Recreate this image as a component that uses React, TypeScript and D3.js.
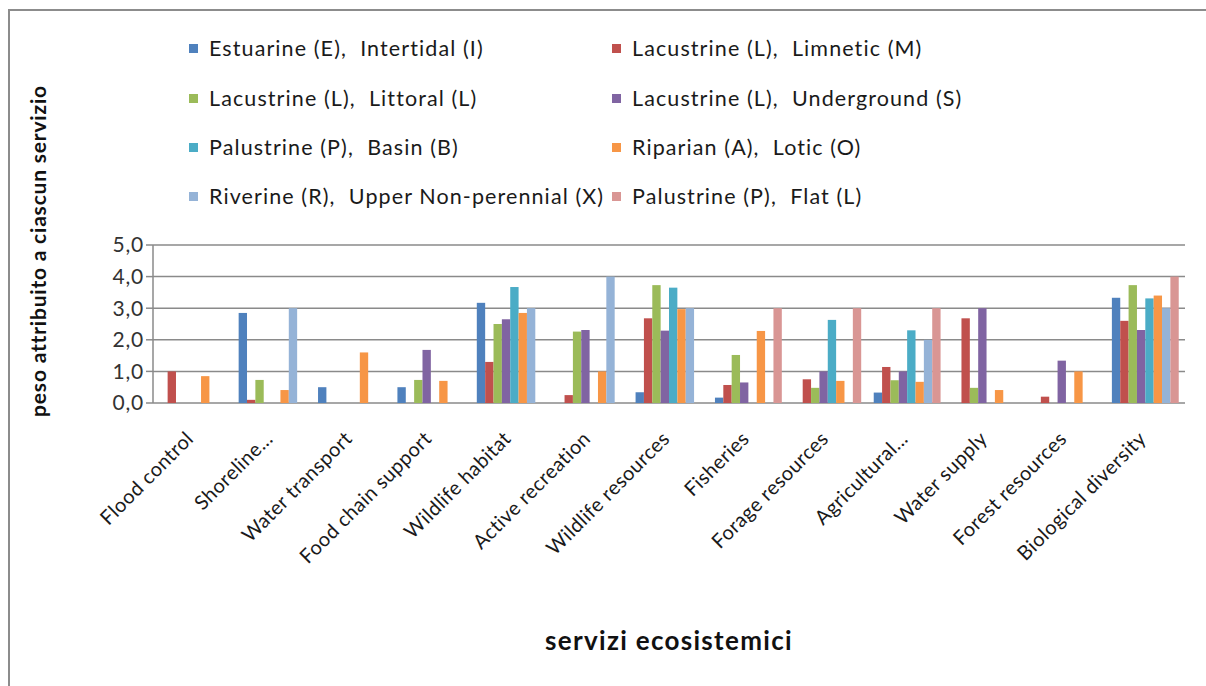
import React from "react";
import * as d3 from "d3";

const categories = [
  "Flood control",
  "Shoreline...",
  "Water transport",
  "Food chain support",
  "Wildlife habitat",
  "Active recreation",
  "Wildlife resources",
  "Fisheries",
  "Forage resources",
  "Agricultural...",
  "Water supply",
  "Forest resources",
  "Biological diversity",
];

const seriesNames = [
  "Estuarine (E),  Intertidal (I)",
  "Lacustrine (L),  Limnetic (M)",
  "Lacustrine (L),  Littoral (L)",
  "Lacustrine (L),  Underground (S)",
  "Palustrine (P),  Basin (B)",
  "Riparian (A),  Lotic (O)",
  "Riverine (R),  Upper Non-perennial (X)",
  "Palustrine (P),  Flat (L)",
];

const seriesColors = [
  "#4F81BD",
  "#C0504D",
  "#9BBB59",
  "#8064A2",
  "#4BACC6",
  "#F79646",
  "#95B3D7",
  "#D99694",
];

const estuarineIntertidal = [0, 2.85, 0.5, 0.5, 3.17, 0, 0.34, 0.17, 0, 0.33, 0, 0, 3.33];
const lacustrineLimnetic = [1.0, 0.1, 0, 0, 1.3, 0.25, 2.68, 0.57, 0.75, 1.14, 2.68, 0.2, 2.6];
const lacustrineLittoral = [0, 0.73, 0, 0.73, 2.5, 2.26, 3.73, 1.52, 0.48, 0.72, 0.48, 0, 3.73];
const lacustrineUnderground = [0, 0, 0, 1.68, 2.65, 2.31, 2.29, 0.65, 1.0, 1.0, 3.0, 1.34, 2.31];
const palustrineBasin = [0, 0, 0, 0, 3.67, 0, 3.65, 0, 2.63, 2.3, 0, 0, 3.31];
const riparianLotic = [0.85, 0.41, 1.6, 0.7, 2.85, 1.0, 2.97, 2.28, 0.7, 0.67, 0.41, 1.0, 3.4];
const riverineUpper = [0, 3.0, 0, 0, 3.0, 4.0, 3.0, 0, 0, 2.0, 0, 0, 3.0];
const palustrineFlat = [0, 0, 0, 0, 0, 0, 0, 3.0, 3.0, 3.0, 0, 0, 4.0];

const seriesValues = [
  estuarineIntertidal,
  lacustrineLimnetic,
  lacustrineLittoral,
  lacustrineUnderground,
  palustrineBasin,
  riparianLotic,
  riverineUpper,
  palustrineFlat,
];

const yTicks = [0, 1, 2, 3, 4, 5];

const W = 1206;
const H = 686;
const plot = { left: 153, right: 1185, top: 245, bottom: 403 };
const FONT = "Lato, 'Open Sans', sans-serif";

export default function App() {
  const x = d3
    .scaleBand<string>()
    .domain(categories)
    .range([plot.left, plot.right])
    .paddingInner(0)
    .paddingOuter(0);
  const xs = d3
    .scaleBand<number>()
    .domain(d3.range(seriesNames.length))
    .range([0, x.bandwidth()])
    .paddingInner(0)
    .paddingOuter(0.75);
  const y = d3.scaleLinear().domain([0, 5]).range([plot.bottom, plot.top]);
  const fmt = (v: number) => d3.format(".1f")(v).replace(".", ",");

  const legendCols = [189, 612];
  const legendRows = [48, 98, 147, 196];

  return (
    <div style={{ position: "absolute", left: 0, top: 0 }}>
      <svg width={W} height={H} style={{ display: "block", background: "#fff" }}>
        <rect x={9} y={10} width={1300} height={800} fill="#fff" stroke="#8c8c8c" strokeWidth={2} />

        {/* legend */}
        {seriesNames.map((name, i) => {
          const col = i % 2;
          const row = Math.floor(i / 2);
          const lx = legendCols[col];
          const ly = legendRows[row];
          return (
            <g key={name}>
              <rect x={lx} y={ly - 4} width={9} height={9} fill={seriesColors[i]} />
              <text
                x={lx + 20}
                y={ly}
                dy="0.35em"
                fontFamily={FONT}
                fontSize={21.5}
                letterSpacing={1.1}
                fill="#1a1a1a"
                style={{ whiteSpace: "pre" }}
              >
                {name}
              </text>
            </g>
          );
        })}

        {/* gridlines */}
        {yTicks.map((t) => (
          <line
            key={t}
            x1={plot.left}
            x2={plot.right}
            y1={y(t)}
            y2={y(t)}
            stroke="#8a8a8a"
            strokeWidth={1.5}
          />
        ))}

        {/* bars */}
        {categories.map((c, ci) => (
          <g key={c}>
            {seriesValues.map((vals, si) =>
              vals[ci] > 0 ? (
                <rect
                  key={si}
                  x={(x(c) as number) + (xs(si) as number)}
                  y={y(vals[ci])}
                  width={xs.bandwidth()}
                  height={y(0) - y(vals[ci])}
                  fill={seriesColors[si]}
                />
              ) : null
            )}
          </g>
        ))}

        {/* y axis */}
        <line x1={plot.left} x2={plot.left} y1={plot.top} y2={plot.bottom} stroke="#8a8a8a" strokeWidth={1.5} />
        {yTicks.map((t) => (
          <g key={t}>
            <line x1={plot.left - 7} x2={plot.left} y1={y(t)} y2={y(t)} stroke="#8a8a8a" strokeWidth={1.5} />
            <text
              x={plot.left - 9}
              y={y(t)}
              dy="0.35em"
              textAnchor="end"
              fontFamily={FONT}
              fontSize={21}
              letterSpacing={0.8}
              fill="#333"
            >
              {fmt(t)}
            </text>
          </g>
        ))}

        {/* x labels */}
        {categories.map((c) => {
          const cx = (x(c) as number) + x.bandwidth() / 2 + 2;
          const cy = 440;
          return (
            <text
              key={c}
              x={cx}
              y={cy}
              textAnchor="end"
              fontFamily={FONT}
              fontSize={20}
              letterSpacing={0.4}
              fill="#1a1a1a"
              transform={`rotate(-45, ${cx}, ${cy})`}
            >
              {c}
            </text>
          );
        })}

        {/* axis titles */}
        <text
          x={46}
          y={251}
          textAnchor="middle"
          fontFamily={FONT}
          fontWeight="bold"
          fontSize={21}
          letterSpacing={0.8}
          fill="#111"
          transform="rotate(-90, 46, 251)"
        >
          peso attribuito a ciascun servizio
        </text>
        <text
          x={669}
          y={650}
          textAnchor="middle"
          fontFamily={FONT}
          fontWeight="bold"
          fontSize={26}
          letterSpacing={1.3}
          fill="#111"
        >
          servizi ecosistemici
        </text>
      </svg>
    </div>
  );
}
